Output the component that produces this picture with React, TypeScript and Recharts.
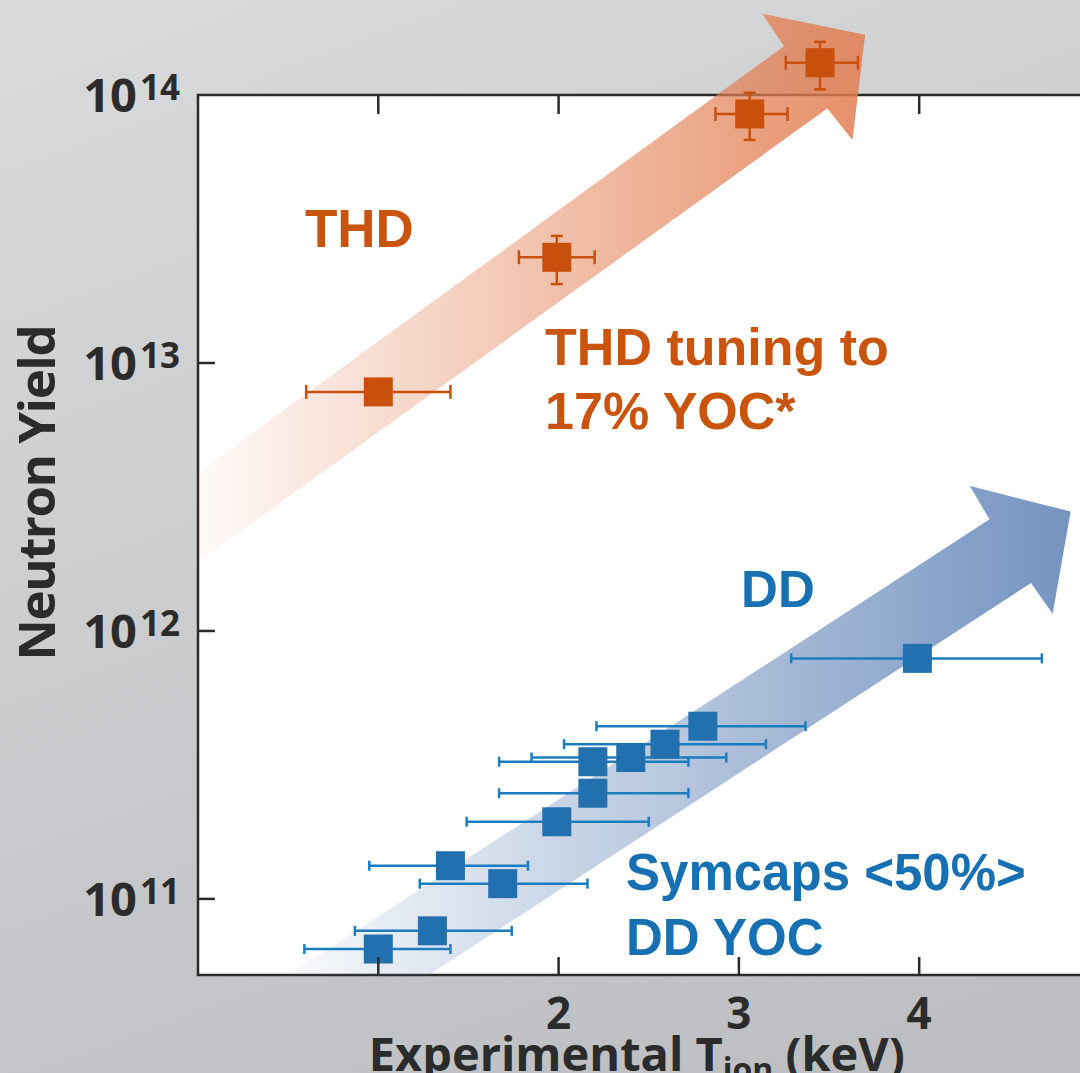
import React from 'react';
import {
  ComposedChart,
  ErrorBar,
  ReferenceArea,
  ReferenceDot,
  Scatter,
  XAxis,
  YAxis
} from 'recharts';

// THD shots (orange)
const thdTion = [1.0, 1.99, 3.06, 3.45];
const thdTionLow = [0.6, 1.78, 2.87, 3.26];
const thdTionHigh = [1.4, 2.2, 3.27, 3.66];
const thdYield = [7.8e12, 2.48e13, 8.5e13, 1.32e14];
const thdYieldLow = [7.8e12, 1.97e13, 6.8e13, 1.05e14];
const thdYieldHigh = [7.8e12, 2.98e13, 1.02e14, 1.58e14];

// DD symcaps (blue)
const ddTion = [1.0, 1.3, 1.4, 1.69, 1.99, 2.19, 2.19, 2.4, 2.59, 2.8, 3.99];
const ddTionLow = [0.59, 0.87, 0.95, 1.23, 1.49, 1.67, 1.67, 1.85, 2.03, 2.21, 3.29];
const ddTionHigh = [1.4, 1.74, 1.83, 2.16, 2.5, 2.72, 2.72, 2.93, 3.15, 3.37, 4.68];
const ddYield = [6.5e10, 7.6e10, 1.33e11, 1.14e11, 1.94e11, 2.48e11, 3.25e11, 3.37e11, 3.78e11, 4.41e11, 7.9e11];

// trend arrows, outline from tail (upper) round the head back to tail (lower)
const thdArrowT = [0, 3.25, 3.13, 3.7, 3.63, 3.49, 0];
const thdArrowYield = [3.9e12, 1.52e14, 2.01e14, 1.68e14, 6.8e13, 8.9e13, 1.81e12];
const ddArrowT = [0.5, 4.39, 4.28, 4.84, 4.74, 4.62, 1.28];
const ddArrowYield = [5.2e10, 2.61e12, 3.48e12, 2.79e12, 1.16e12, 1.51e12, 5.2e10];

const xTicks = [1, 2, 3, 4];
const xTickLabels = ['', '2', '3', '4'];
const yTicks = [1e11, 1e12, 1e13, 1e14];

const X_MIN = 0;
const X_MAX = 5;
const Y_MIN = 5.2e10;
const Y_MAX = 2.2e14;
const Y_FRAME = 1e14;

const ORANGE = '#c8500c';
const BLUE = '#2270ae';
const BLUE_BAR = '#1c7dbe';
const INK = '#2b2b2b';

const thdData = thdTion.map((t, i) => ({
  x: t,
  y: thdYield[i],
  ex: [t - thdTionLow[i], thdTionHigh[i] - t],
  ey: [thdYield[i] - thdYieldLow[i], thdYieldHigh[i] - thdYield[i]]
}));

const ddData = ddTion.map((t, i) => ({
  x: t,
  y: ddYield[i],
  ex: [t - ddTionLow[i], ddTionHigh[i] - t]
}));

const thdArrow = thdArrowT.map((t, i) => ({ x: t, y: thdArrowYield[i] }));
const ddArrow = ddArrowT.map((t, i) => ({ x: t, y: ddArrowYield[i] }));

// inward tick marks round the frame, anchored just inside the edges
// (the top tick at 3 lies under the THD arrow)
const EDGE_X = 0.005;
const EDGE_Y = 1.008;
const frameTicks = [
  ...yTicks.slice(0, 3).map((v) => ({ x: X_MIN + EDGE_X, y: v, dx: 16, dy: 0 })),
  ...yTicks.slice(0, 3).map((v) => ({ x: X_MAX - EDGE_X, y: v, dx: -17, dy: 0 })),
  ...xTicks.map((t) => ({ x: t, y: Y_MIN * EDGE_Y, dx: 0, dy: -17 })),
  ...xTicks.filter((t) => t !== 3).map((t) => ({ x: t, y: Y_FRAME, dx: 0, dy: 19 }))
];

const tickMark = (dx: number, dy: number) => (p: any) => (
  <line x1={p.cx} y1={p.cy} x2={p.cx + dx} y2={p.cy + dy} stroke={INK} strokeWidth={2.5} />
);

const square = (color: string) => (p: any) => (
  <rect x={p.cx - 14.5} y={p.cy - 14.5} width={29} height={29} fill={color} />
);

const arrowShape = (fill: string) => (p: any) => (
  <polygon points={p.points.map((q: any) => `${q.x},${q.y}`).join(' ')} fill={fill} stroke="none" />
);

const YTick = ({ x, y, payload }: any) => {
  const exp = Math.round(Math.log10(payload.value));
  return (
    <text x={x - 18} y={y + 17} textAnchor="end" fill={INK} fontFamily="Open Sans" fontWeight={700} fontSize={47}>
      <tspan>10</tspan>
      <tspan dx={3} dy={-12} fontSize={35}>{exp}</tspan>
    </text>
  );
};

const XTick = ({ x, y, index }: any) => (
  <text x={x} y={y + 54} textAnchor="middle" fill={INK} fontFamily="Open Sans" fontWeight={700} fontSize={44}>
    {xTickLabels[index]}
  </text>
);

const XLabel = ({ viewBox }: any) => (
  <text
    x={viewBox.x + viewBox.width / 2 - 12}
    y={viewBox.y + 96}
    textAnchor="middle"
    fill={INK}
    fontFamily="Open Sans"
    fontWeight={700}
    fontSize={47}
  >
    Experimental T<tspan fontSize={32} dy={10}>ion</tspan>
    <tspan dy={-10}> (keV)</tspan>
  </text>
);

const YLabel = ({ viewBox }: any) => {
  const x = viewBox.x + 55;
  const y = viewBox.y + viewBox.height / 2 + 4;
  return (
    <text
      x={x}
      y={y}
      transform={`rotate(-90, ${x}, ${y})`}
      textAnchor="middle"
      fill={INK}
      fontFamily="Open Sans"
      fontWeight={700}
      fontSize={51}
      letterSpacing={-1.5}
    >
      Neutron Yield
    </text>
  );
};

const note = (lines: string[], color: string, size: number, lead: number) => (p: any) => (
  <text x={p.cx} y={p.cy} fill={color} fontFamily="Liberation Sans, Arial, sans-serif" fontWeight={700} fontSize={size}>
    {lines.map((l, i) => (
      <tspan key={i} x={p.cx} dy={i === 0 ? 0 : lead}>{l}</tspan>
    ))}
  </text>
);

const hidden = () => <g />;

export default function App() {
  return (
    <div
      style={{
        position: 'fixed',
        top: 0,
        left: 0,
        width: 1080,
        height: 1073,
        overflow: 'hidden',
        background: 'linear-gradient(160deg, #d8dadb 0%, #cbcdcf 45%, #bbbdc0 100%)'
      }}
    >
      <ComposedChart width={1120} height={1073} margin={{ top: 3.3, right: 20.5, bottom: 0, left: 0 }}>
        <defs>
          <linearGradient id="thdGrad" x1="0" y1="0" x2="1" y2="0">
            <stop offset="0%" stopColor="rgb(226,125,80)" stopOpacity={0.04} />
            <stop offset="100%" stopColor="rgb(226,125,80)" stopOpacity={0.86} />
          </linearGradient>
          <linearGradient id="ddGrad" x1="0" y1="0" x2="1" y2="0">
            <stop offset="0%" stopColor="rgb(104,138,186)" stopOpacity={0.05} />
            <stop offset="100%" stopColor="rgb(104,138,186)" stopOpacity={0.92} />
          </linearGradient>
        </defs>
        <XAxis
          type="number"
          dataKey="x"
          domain={[X_MIN, X_MAX]}
          ticks={xTicks}
          tick={<XTick />}
          tickSize={0}
          tickMargin={0}
          axisLine={false}
          tickLine={false}
          height={98}
          allowDataOverflow
          label={{ content: XLabel }}
        />
        <YAxis
          type="number"
          dataKey="y"
          scale="log"
          domain={[Y_MIN, Y_MAX]}
          ticks={yTicks}
          tick={<YTick />}
          tickSize={0}
          tickMargin={0}
          axisLine={false}
          tickLine={false}
          width={198}
          allowDataOverflow
          label={{ content: YLabel }}
        />
        <ReferenceArea
          x1={X_MIN}
          x2={X_MAX}
          y1={Y_MIN}
          y2={Y_FRAME}
          fill="#ffffff"
          fillOpacity={1}
          stroke={INK}
          strokeWidth={2.5}
          ifOverflow="visible"
          zIndex={50}
        />
        <Scatter
          data={thdArrow}
          line={arrowShape('url(#thdGrad)')}
          lineType="joint"
          shape={hidden}
          legendType="none"
          isAnimationActive={false}
          zIndex={100}
        />
        <Scatter
          data={ddArrow}
          line={arrowShape('url(#ddGrad)')}
          lineType="joint"
          shape={hidden}
          legendType="none"
          isAnimationActive={false}
          zIndex={100}
        />
        <Scatter data={thdData} shape={square(ORANGE)} isAnimationActive={false}>
          <ErrorBar dataKey="ex" direction="x" stroke={ORANGE} strokeWidth={2.5} width={7} isAnimationActive={false} />
          <ErrorBar dataKey="ey" direction="y" stroke={ORANGE} strokeWidth={2.5} width={6} isAnimationActive={false} />
        </Scatter>
        <Scatter data={ddData} shape={square(BLUE)} isAnimationActive={false}>
          <ErrorBar dataKey="ex" direction="x" stroke={BLUE_BAR} strokeWidth={2.5} width={5} isAnimationActive={false} />
        </Scatter>
        {frameTicks.map((t, i) => (
          <ReferenceDot
            key={`tick${i}`}
            x={t.x}
            y={t.y}
            r={0}
            ifOverflow="visible"
            zIndex={700}
            shape={tickMark(t.dx, t.dy)}
          />
        ))}
        <ReferenceDot x={0.593} y={2.71e13} r={0} ifOverflow="visible" zIndex={700} shape={note(['THD'], '#c9540e', 53, 0)} />
        <ReferenceDot x={1.925} y={9.83e12} r={0} ifOverflow="visible" zIndex={700} shape={note(['THD tuning to', '17% YOC*'], '#c9540e', 52, 64)} />
        <ReferenceDot x={3.012} y={1.23e12} r={0} ifOverflow="visible" zIndex={700} shape={note(['DD'], '#1670b2', 51, 0)} />
        <ReferenceDot x={2.374} y={1.08e11} r={0} ifOverflow="visible" zIndex={700} shape={note(['Symcaps <50%>', 'DD YOC'], '#1670b2', 51, 65.5)} />
      </ComposedChart>
    </div>
  );
}
